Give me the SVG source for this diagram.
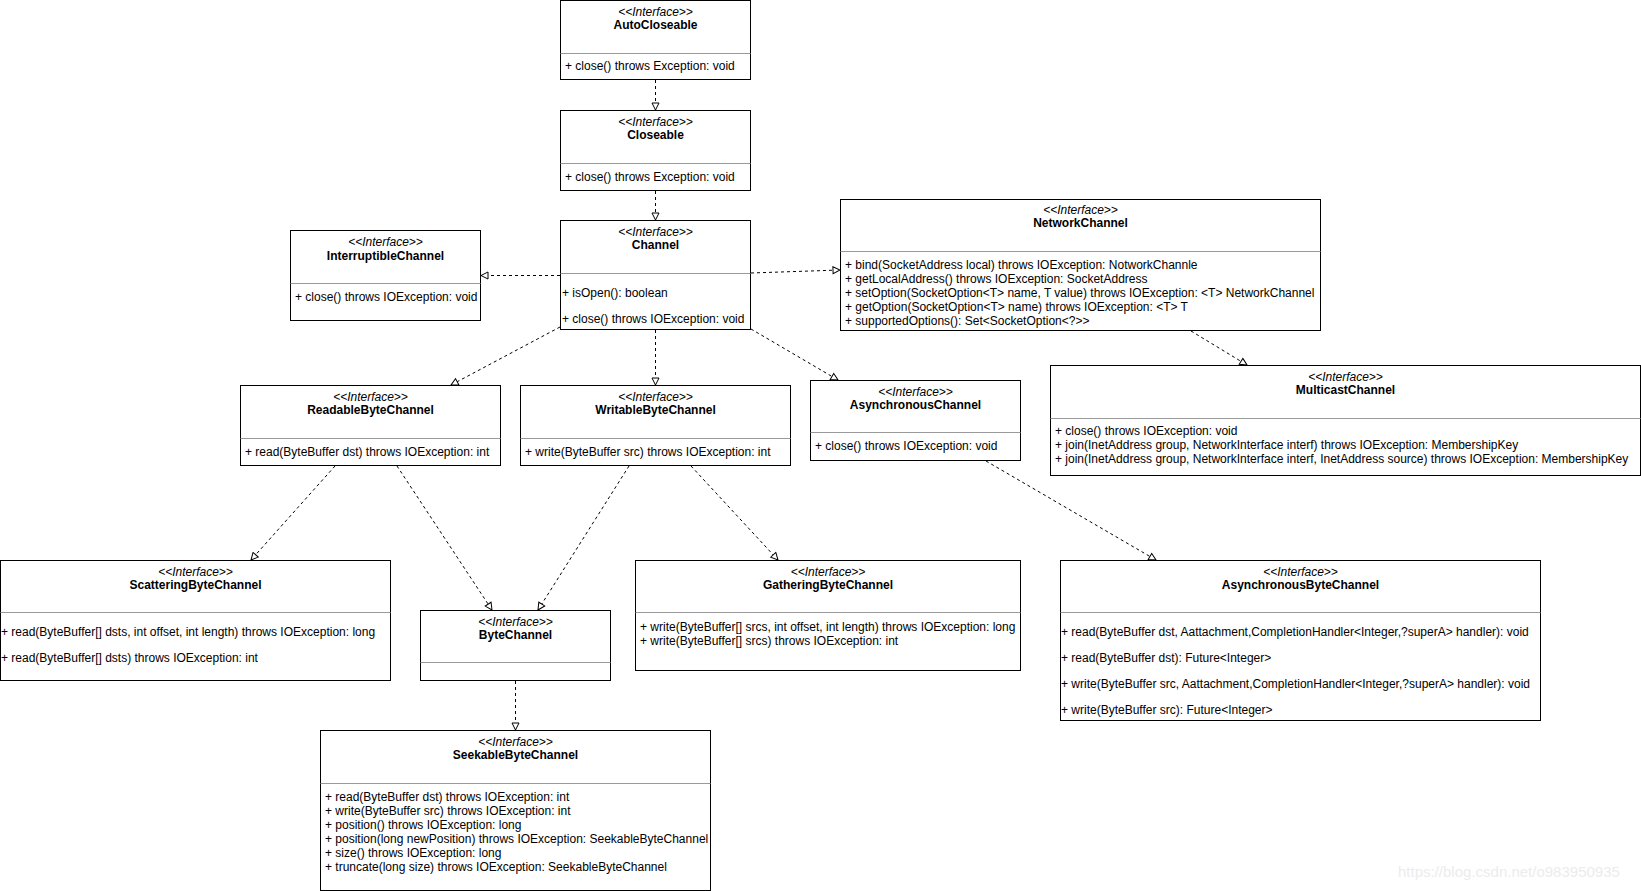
<svg xmlns="http://www.w3.org/2000/svg" width="1641" height="891" viewBox="0 0 1641 891">
<style>
text{font-family:"Liberation Sans",Arial,Helvetica,sans-serif;font-size:12px;fill:#000}
.box{fill:#fff;stroke:#000;stroke-width:1}
.sep{stroke:#999;stroke-width:1}
.st{font-style:italic;text-anchor:middle}
.nm{font-weight:bold;text-anchor:middle}
.edge{fill:none;stroke:#000;stroke-width:1;stroke-dasharray:3 3;marker-end:url(#tri)}
.wm{fill:#ececec;font-size:15px}
</style>
<defs>
<marker id="tri" markerUnits="userSpaceOnUse" markerWidth="9" markerHeight="9" viewBox="-1 -1 9 9" refX="7" refY="3.5" orient="auto">
<path d="M0,0 L7,3.5 L0,7 Z" fill="#fff" stroke="#000" stroke-width="1"/>
</marker>
</defs>
<rect width="1641" height="891" fill="#fff"/>

<g id="AutoCloseable">
<rect class="box" x="560.5" y="0.5" width="190" height="79"/>
<line class="sep" x1="560.5" y1="53.5" x2="750.5" y2="53.5"/>
<text class="st" x="655.5" y="16">&lt;&lt;Interface&gt;&gt;</text>
<text class="nm" x="655.5" y="29">AutoCloseable</text>
<text x="565" y="70">+ close() throws Exception: void</text>
</g>

<g id="Closeable">
<rect class="box" x="560.5" y="110.5" width="190" height="80"/>
<line class="sep" x1="560.5" y1="163.5" x2="750.5" y2="163.5"/>
<text class="st" x="655.5" y="126">&lt;&lt;Interface&gt;&gt;</text>
<text class="nm" x="655.5" y="139">Closeable</text>
<text x="565" y="181">+ close() throws Exception: void</text>
</g>

<g id="Channel">
<rect class="box" x="560.5" y="220.5" width="190" height="109"/>
<line class="sep" x1="560.5" y1="273.5" x2="750.5" y2="273.5"/>
<text class="st" x="655.5" y="236">&lt;&lt;Interface&gt;&gt;</text>
<text class="nm" x="655.5" y="249">Channel</text>
<text x="562" y="297">+ isOpen(): boolean</text>
<text x="562" y="323">+ close() throws IOException: void</text>
</g>

<g id="InterruptibleChannel">
<rect class="box" x="290.5" y="230.5" width="190" height="90"/>
<line class="sep" x1="290.5" y1="283.5" x2="480.5" y2="283.5"/>
<text class="st" x="385.5" y="246">&lt;&lt;Interface&gt;&gt;</text>
<text class="nm" x="385.5" y="260">InterruptibleChannel</text>
<text x="295" y="301">+ close() throws IOException: void</text>
</g>

<g id="NetworkChannel">
<rect class="box" x="840.5" y="199.5" width="480" height="131"/>
<line class="sep" x1="840.5" y1="251.5" x2="1320.5" y2="251.5"/>
<text class="st" x="1080.5" y="213.5">&lt;&lt;Interface&gt;&gt;</text>
<text class="nm" x="1080.5" y="227">NetworkChannel</text>
<text x="845" y="269">+ bind(SocketAddress local) throws IOException: NotworkChannle</text>
<text x="845" y="283">+ getLocalAddress() throws IOException: SocketAddress</text>
<text x="845" y="297">+ setOption(SocketOption&lt;T&gt; name, T value) throws IOException: &lt;T&gt; NetworkChannel</text>
<text x="845" y="311">+ getOption(SocketOption&lt;T&gt; name) throws IOException: &lt;T&gt; T</text>
<text x="845" y="325">+ supportedOptions(): Set&lt;SocketOption&lt;?&gt;&gt;</text>
</g>

<g id="ReadableByteChannel">
<rect class="box" x="240.5" y="385.5" width="260" height="80"/>
<line class="sep" x1="240.5" y1="438.5" x2="500.5" y2="438.5"/>
<text class="st" x="370.5" y="401">&lt;&lt;Interface&gt;&gt;</text>
<text class="nm" x="370.5" y="414">ReadableByteChannel</text>
<text x="245" y="456">+ read(ByteBuffer dst) throws IOException: int</text>
</g>

<g id="WritableByteChannel">
<rect class="box" x="520.5" y="385.5" width="270" height="80"/>
<line class="sep" x1="520.5" y1="438.5" x2="790.5" y2="438.5"/>
<text class="st" x="655.5" y="401">&lt;&lt;Interface&gt;&gt;</text>
<text class="nm" x="655.5" y="414">WritableByteChannel</text>
<text x="525" y="456">+ write(ByteBuffer src) throws IOException: int</text>
</g>

<g id="AsynchronousChannel">
<rect class="box" x="810.5" y="380.5" width="210" height="80"/>
<line class="sep" x1="810.5" y1="432.5" x2="1020.5" y2="432.5"/>
<text class="st" x="915.5" y="395.5">&lt;&lt;Interface&gt;&gt;</text>
<text class="nm" x="915.5" y="409">AsynchronousChannel</text>
<text x="815" y="450">+ close() throws IOException: void</text>
</g>

<g id="MulticastChannel">
<rect class="box" x="1050.5" y="365.5" width="590" height="110"/>
<line class="sep" x1="1050.5" y1="418.5" x2="1640.5" y2="418.5"/>
<text class="st" x="1345.5" y="380.5">&lt;&lt;Interface&gt;&gt;</text>
<text class="nm" x="1345.5" y="394">MulticastChannel</text>
<text x="1055" y="435">+ close() throws IOException: void</text>
<text x="1055" y="449">+ join(InetAddress group, NetworkInterface interf) throws IOException: MembershipKey</text>
<text x="1055" y="463">+ join(InetAddress group, NetworkInterface interf, InetAddress source) throws IOException: MembershipKey</text>
</g>

<g id="ScatteringByteChannel">
<rect class="box" x="0.5" y="560.5" width="390" height="120"/>
<line class="sep" x1="0.5" y1="612.5" x2="390.5" y2="612.5"/>
<text class="st" x="195.5" y="576">&lt;&lt;Interface&gt;&gt;</text>
<text class="nm" x="195.5" y="589">ScatteringByteChannel</text>
<text x="1" y="636">+ read(ByteBuffer[] dsts, int offset, int length) throws IOException: long</text>
<text x="1" y="662">+ read(ByteBuffer[] dsts) throws IOException: int</text>
</g>

<g id="ByteChannel">
<rect class="box" x="420.5" y="610.5" width="190" height="70"/>
<line class="sep" x1="420.5" y1="662.5" x2="610.5" y2="662.5"/>
<text class="st" x="515.5" y="626">&lt;&lt;Interface&gt;&gt;</text>
<text class="nm" x="515.5" y="639">ByteChannel</text>
</g>

<g id="GatheringByteChannel">
<rect class="box" x="635.5" y="560.5" width="385" height="110"/>
<line class="sep" x1="635.5" y1="612.5" x2="1020.5" y2="612.5"/>
<text class="st" x="828" y="576">&lt;&lt;Interface&gt;&gt;</text>
<text class="nm" x="828" y="589">GatheringByteChannel</text>
<text x="640" y="631">+ write(ByteBuffer[] srcs, int offset, int length) throws IOException: long</text>
<text x="640" y="645">+ write(ByteBuffer[] srcs) throws IOException: int</text>
</g>

<g id="AsynchronousByteChannel">
<rect class="box" x="1060.5" y="560.5" width="480" height="160"/>
<line class="sep" x1="1060.5" y1="612.5" x2="1540.5" y2="612.5"/>
<text class="st" x="1300.5" y="576">&lt;&lt;Interface&gt;&gt;</text>
<text class="nm" x="1300.5" y="589">AsynchronousByteChannel</text>
<text x="1061" y="636">+ read(ByteBuffer dst, Aattachment,CompletionHandler&lt;Integer,?superA&gt; handler): void</text>
<text x="1061" y="662">+ read(ByteBuffer dst): Future&lt;Integer&gt;</text>
<text x="1061" y="688">+ write(ByteBuffer src, Aattachment,CompletionHandler&lt;Integer,?superA&gt; handler): void</text>
<text x="1061" y="714">+ write(ByteBuffer src): Future&lt;Integer&gt;</text>
</g>

<g id="SeekableByteChannel">
<rect class="box" x="320.5" y="730.5" width="390" height="160"/>
<line class="sep" x1="320.5" y1="783.5" x2="710.5" y2="783.5"/>
<text class="st" x="515.5" y="746">&lt;&lt;Interface&gt;&gt;</text>
<text class="nm" x="515.5" y="759">SeekableByteChannel</text>
<text x="325" y="801">+ read(ByteBuffer dst) throws IOException: int</text>
<text x="325" y="815">+ write(ByteBuffer src) throws IOException: int</text>
<text x="325" y="829">+ position() throws IOException: long</text>
<text x="325" y="843">+ position(long newPosition) throws IOException: SeekableByteChannel</text>
<text x="325" y="857">+ size() throws IOException: long</text>
<text x="325" y="871">+ truncate(long size) throws IOException: SeekableByteChannel</text>
</g>

<g id="connectors">
<line class="edge" x1="655.5" y1="80" x2="655.5" y2="110"/>
<line class="edge" x1="655.5" y1="191" x2="655.5" y2="220"/>
<line class="edge" x1="560" y1="275.5" x2="481" y2="275.5"/>
<line class="edge" x1="751" y1="273" x2="840" y2="270"/>
<line class="edge" x1="1191" y1="331" x2="1247" y2="365"/>
<line class="edge" x1="560" y1="327" x2="451" y2="385"/>
<line class="edge" x1="655.5" y1="330" x2="655.5" y2="385"/>
<line class="edge" x1="751" y1="329" x2="838" y2="380"/>
<line class="edge" x1="335" y1="466" x2="251" y2="560"/>
<line class="edge" x1="397" y1="466" x2="492" y2="610"/>
<line class="edge" x1="629" y1="466" x2="538" y2="610"/>
<line class="edge" x1="691" y1="466" x2="778" y2="560"/>
<line class="edge" x1="986" y1="461" x2="1156" y2="560"/>
<line class="edge" x1="515.5" y1="681" x2="515.5" y2="730"/>
</g>

<text class="wm" x="1398" y="877">https://blog.csdn.net/o983950935</text>
</svg>
